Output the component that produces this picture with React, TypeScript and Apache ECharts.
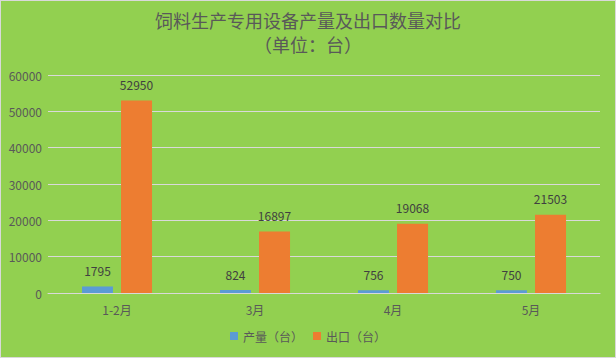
import React, { useEffect, useRef } from "react";
import * as echarts from "echarts";

const categories = ["1-2月", "3月", "4月", "5月"];
const production = [1795, 824, 756, 750];
const exports = [52950, 16897, 19068, 21503];
const seriesNames = ["产量（台）", "出口（台）"];
const titleLines = ["饲料生产专用设备产量及出口数量对比", "（单位：台）"];

export default function App() {
  const ref = useRef<HTMLDivElement>(null);
  useEffect(() => {
    document.body.style.margin = "0";
    const chart = echarts.init(ref.current!, null, { renderer: "svg" });
    const font = "'Noto Sans CJK SC', 'Microsoft YaHei', sans-serif";
    const titleStyle = {
      fontSize: 18,
      fontWeight: "normal",
      color: "#595959",
      fontFamily: font,
      lineHeight: 20,
    };
    chart.setOption({
      animation: false,
      backgroundColor: "#92D050",
      textStyle: { fontFamily: font },
      title: [
        { text: titleLines[0], left: "center", top: 9, padding: 0, textStyle: titleStyle },
        { text: titleLines[1], left: "center", top: 33, padding: 0, textStyle: titleStyle },
      ],
      legend: {
        bottom: 10,
        left: "center",
        itemWidth: 8,
        itemHeight: 8,
        itemGap: 10,
        icon: "rect",
        textStyle: { color: "#595959", fontSize: 12 },
        data: seriesNames,
      },
      grid: { left: 47, right: 15, top: 74, bottom: 64 },
      xAxis: {
        type: "category",
        data: categories,
        axisTick: { show: false },
        axisLine: { lineStyle: { color: "#D9D9D9" } },
        axisLabel: { color: "#595959", fontSize: 12, margin: 10 },
      },
      yAxis: {
        type: "value",
        min: 0,
        max: 60000,
        interval: 10000,
        axisLine: { show: false },
        axisTick: { show: false },
        axisLabel: {
          color: "#595959",
          fontSize: 12,
          margin: 6,
          formatter: (v: number) => String(v),
        },
        splitLine: { lineStyle: { color: "#D9D9D9" } },
      },
      series: [
        {
          name: seriesNames[0],
          type: "bar",
          data: production,
          barWidth: 31,
          barGap: "26%",
          itemStyle: { color: "#5B9BD5" },
          label: { show: true, position: "top", distance: 10, color: "#404040", fontSize: 12 },
        },
        {
          name: seriesNames[1],
          type: "bar",
          data: exports,
          barWidth: 31,
          barGap: "26%",
          itemStyle: { color: "#ED7D31" },
          label: { show: true, position: "top", distance: 10, color: "#404040", fontSize: 12 },
        },
      ],
    });
    return () => chart.dispose();
  }, []);
  return (
    <div
      style={{
        width: 616,
        height: 358,
        boxSizing: "border-box",
        border: "1px solid #D9D9D9",
        background: "#92D050",
      }}
    >
      <div ref={ref} style={{ width: 614, height: 356 }} />
    </div>
  );
}
